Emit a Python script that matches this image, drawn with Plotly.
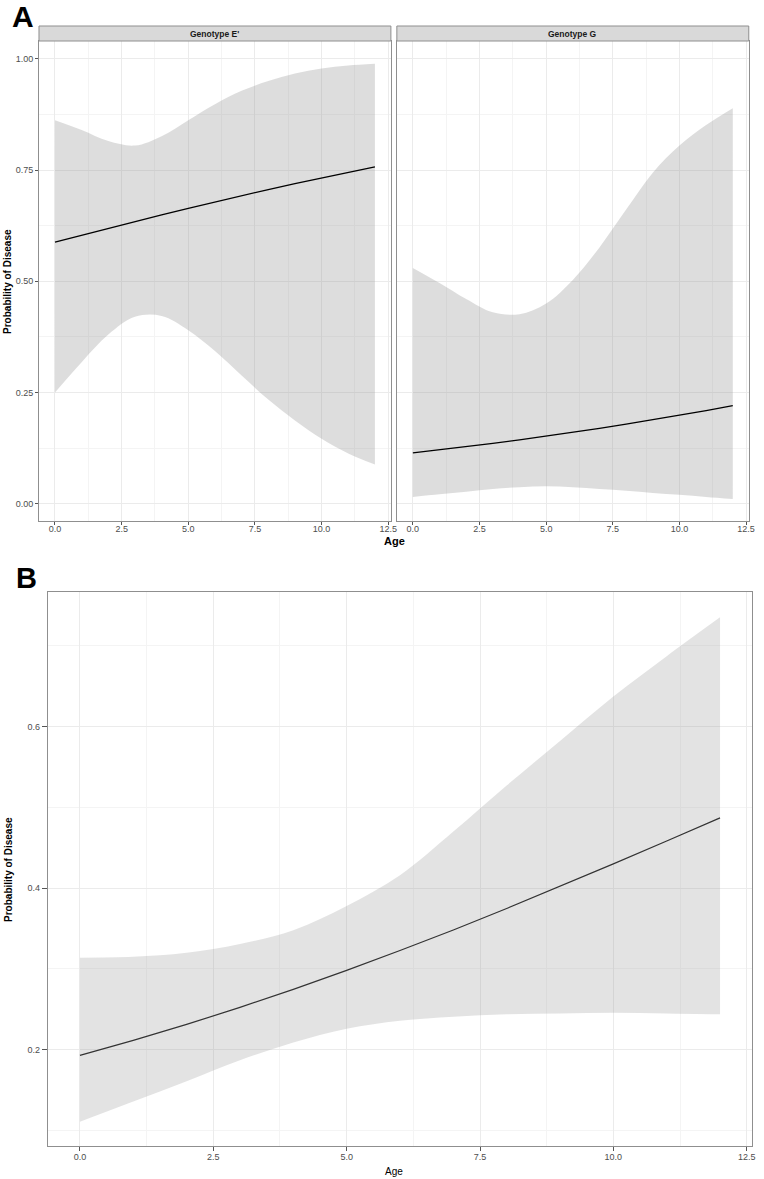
import plotly.graph_objects as go

# ---------------- data ----------------
ages = [0, 1, 2, 3, 4, 5, 6, 7, 8, 9, 10, 11, 12]

# Panel A, Genotype E'
e_fit   = [0.5881, 0.6037, 0.6192, 0.6344, 0.6493, 0.6640, 0.6783, 0.6923, 0.7060, 0.7193, 0.7322, 0.7448, 0.7570]
e_upper = [0.862, 0.840, 0.815, 0.805, 0.826, 0.862, 0.898, 0.928, 0.950, 0.967, 0.978, 0.985, 0.989]
e_lower = [0.250, 0.318, 0.380, 0.420, 0.422, 0.390, 0.343, 0.288, 0.234, 0.187, 0.146, 0.113, 0.088]

# Panel A, Genotype G
g_fit   = [0.1141, 0.1208, 0.1280, 0.1355, 0.1433, 0.1516, 0.1602, 0.1692, 0.1786, 0.1884, 0.1986, 0.2092, 0.2203]
g_upper = [0.530, 0.496, 0.460, 0.430, 0.426, 0.450, 0.503, 0.576, 0.661, 0.744, 0.805, 0.851, 0.889]
g_lower = [0.015, 0.021, 0.027, 0.033, 0.037, 0.039, 0.037, 0.033, 0.029, 0.024, 0.020, 0.015, 0.0105]

# Panel B
b_fit   = [0.1931, 0.2116, 0.2314, 0.2525, 0.2747, 0.2982, 0.3228, 0.3483, 0.3748, 0.4021, 0.4300, 0.4583, 0.4869]
b_upper = [0.314, 0.315, 0.320, 0.331, 0.348, 0.378, 0.416, 0.470, 0.527, 0.582, 0.637, 0.687, 0.735]
b_lower = [0.111, 0.136, 0.161, 0.187, 0.209, 0.226, 0.236, 0.241, 0.244, 0.245, 0.246, 0.245, 0.244]

facet_labels = ["Genotype E'", "Genotype G"]
x_ticks = [0.0, 2.5, 5.0, 7.5, 10.0, 12.5]
x_ticktext = ["0.0", "2.5", "5.0", "7.5", "10.0", "12.5"]
ya_ticks = [0.0, 0.25, 0.5, 0.75, 1.0]
ya_ticktext = ["0.00", "0.25", "0.50", "0.75", "1.00"]
yb_ticks = [0.2, 0.4, 0.6]
yb_ticktext = ["0.2", "0.4", "0.6"]

# ---------------- layout geometry ----------------
W, H = 764, 1179
def px_x(p): return p / W
def px_y(p): return 1 - p / H

FONT = "Liberation Sans, Arial, Helvetica, sans-serif"
BAND = "rgba(153,153,153,0.33)"
BAND_B = "rgba(153,153,153,0.27)"
BORDER = "#8f8f8f"
GRID = "#EBEBEB"
GRID_MINOR = "#F4F4F4"

fig = go.Figure()

def add_panel(fig, xa, ya, upper, lower, fit, band, linecolor, lw):
    fig.add_trace(go.Scatter(x=ages, y=lower, mode="lines", line=dict(width=0, shape="spline", smoothing=1.0),
                             xaxis=xa, yaxis=ya, showlegend=False, hoverinfo="skip"))
    fig.add_trace(go.Scatter(x=ages, y=upper, mode="lines", line=dict(width=0, shape="spline", smoothing=1.0),
                             fill="tonexty", fillcolor=band,
                             xaxis=xa, yaxis=ya, showlegend=False, hoverinfo="skip"))
    fig.add_trace(go.Scatter(x=ages, y=fit, mode="lines", line=dict(color=linecolor, width=lw, shape="linear"),
                             xaxis=xa, yaxis=ya, showlegend=False))

add_panel(fig, "x", "y", e_upper, e_lower, e_fit, BAND, "#000000", 1.3)
add_panel(fig, "x2", "y2", g_upper, g_lower, g_fit, BAND, "#000000", 1.3)
add_panel(fig, "x3", "y3", b_upper, b_lower, b_fit, BAND_B, "#333333", 1.2)

tickfont = dict(family=FONT, size=9, color="#4D4D4D")

def xaxis_cfg(domain, ticklen=3, standoff=-4):
    return dict(domain=domain, range=[-0.6, 12.6], tickvals=x_ticks, ticktext=x_ticktext,
                showline=True, mirror=True, linecolor=BORDER, linewidth=1,
                ticks="outside", ticklen=ticklen, tickcolor="#555555", tickwidth=1,
                ticklabelstandoff=standoff,
                showgrid=True, gridcolor=GRID, gridwidth=1, zeroline=False,
                minor=dict(tick0=0, dtick=1.25, showgrid=True, gridcolor=GRID_MINOR, gridwidth=0.6, ticks=""),
                tickfont=tickfont, fixedrange=True)

def yaxis_cfg(domain, rng, tv, tt, anchor, show_labels=True, minor_dtick=0.125, minor0=0, ticklen=3):
    d = dict(domain=domain, range=rng, tickvals=tv, ticktext=tt, anchor=anchor,
             showline=True, mirror=True, linecolor=BORDER, linewidth=1,
             showgrid=True, gridcolor=GRID, gridwidth=1, zeroline=False,
             minor=dict(tick0=minor0, dtick=minor_dtick, showgrid=True, gridcolor=GRID_MINOR, gridwidth=0.6, ticks=""),
             tickfont=tickfont, fixedrange=True)
    if show_labels:
        d.update(ticks="outside", ticklen=ticklen, tickcolor="#555555", tickwidth=1, showticklabels=True)
    else:
        d.update(ticks="", showticklabels=False)
    return d

yA = [px_y(521), px_y(41)]
xA1 = [px_x(39.3), px_x(394)]
xA2 = [px_x(400), px_x(754.7)]
xB = [px_x(48.3), px_x(758)]
yB = [px_y(1146), px_y(592.3)]

fig.update_layout(
    width=W, height=H, margin=dict(l=0, r=0, t=0, b=0),
    paper_bgcolor="white", plot_bgcolor="white",
    font=dict(family=FONT),
    xaxis=dict(**xaxis_cfg(xA1), anchor="y"),
    xaxis2=dict(**xaxis_cfg(xA2), anchor="y2"),
    xaxis3=dict(**xaxis_cfg(xB, ticklen=4, standoff=-2), anchor="y3"),
    yaxis=yaxis_cfg(yA, [-0.039, 1.040], ya_ticks, ya_ticktext, "x"),
    yaxis2=yaxis_cfg(yA, [-0.039, 1.040], ya_ticks, ya_ticktext, "x2", show_labels=False),
    yaxis3=yaxis_cfg(yB, [0.081, 0.766], yb_ticks, yb_ticktext, "x3", minor_dtick=0.1, minor0=0.1, ticklen=5),
)

# facet strips
shapes = []
annotations = []
for dom, label in zip([xA1, xA2], facet_labels):
    shapes.append(dict(type="rect", xref="paper", yref="paper", x0=dom[0], x1=dom[1],
                       y0=px_y(41), y1=px_y(26), fillcolor="#D9D9D9",
                       line=dict(color=BORDER, width=1), layer="above"))
    annotations.append(dict(text="<b>" + label + "</b>", xref="paper", yref="paper",
                            x=(dom[0] + dom[1]) / 2, y=px_y(33.5), xanchor="center", yanchor="middle",
                            showarrow=False, font=dict(family=FONT, size=8.5, color="#1A1A1A")))

# panel letters
annotations.append(dict(text="<b>A</b>", xref="paper", yref="paper", x=px_x(10), y=px_y(16),
                        xanchor="left", yanchor="middle", showarrow=False,
                        font=dict(family=FONT, size=30, color="black")))
annotations.append(dict(text="<b>B</b>", xref="paper", yref="paper", x=px_x(14), y=px_y(578),
                        xanchor="left", yanchor="middle", showarrow=False,
                        font=dict(family=FONT, size=29, color="black")))

# axis titles
annotations.append(dict(text="<b>Probability of Disease</b>", xref="paper", yref="paper",
                        x=px_x(8), y=px_y(281), xanchor="center", yanchor="middle", textangle=-90,
                        showarrow=False, font=dict(family=FONT, size=10, color="black")))
annotations.append(dict(text="<b>Age</b>", xref="paper", yref="paper",
                        x=px_x(398), y=px_y(541), xanchor="center", yanchor="middle",
                        showarrow=False, font=dict(family=FONT, size=11, color="black")))
annotations.append(dict(text="<b>Probability of Disease</b>", xref="paper", yref="paper",
                        x=px_x(8), y=px_y(869), xanchor="center", yanchor="middle", textangle=-90,
                        showarrow=False, font=dict(family=FONT, size=10, color="black")))
annotations.append(dict(text="Age", xref="paper", yref="paper",
                        x=px_x(397), y=px_y(1171), xanchor="center", yanchor="middle",
                        showarrow=False, font=dict(family=FONT, size=10, color="black")))

fig.update_layout(shapes=shapes, annotations=annotations)

fig.write_html("out.html", config={"displayModeBar": False},
               post_script="document.body.style.margin='0';document.body.style.overflow='hidden';")
